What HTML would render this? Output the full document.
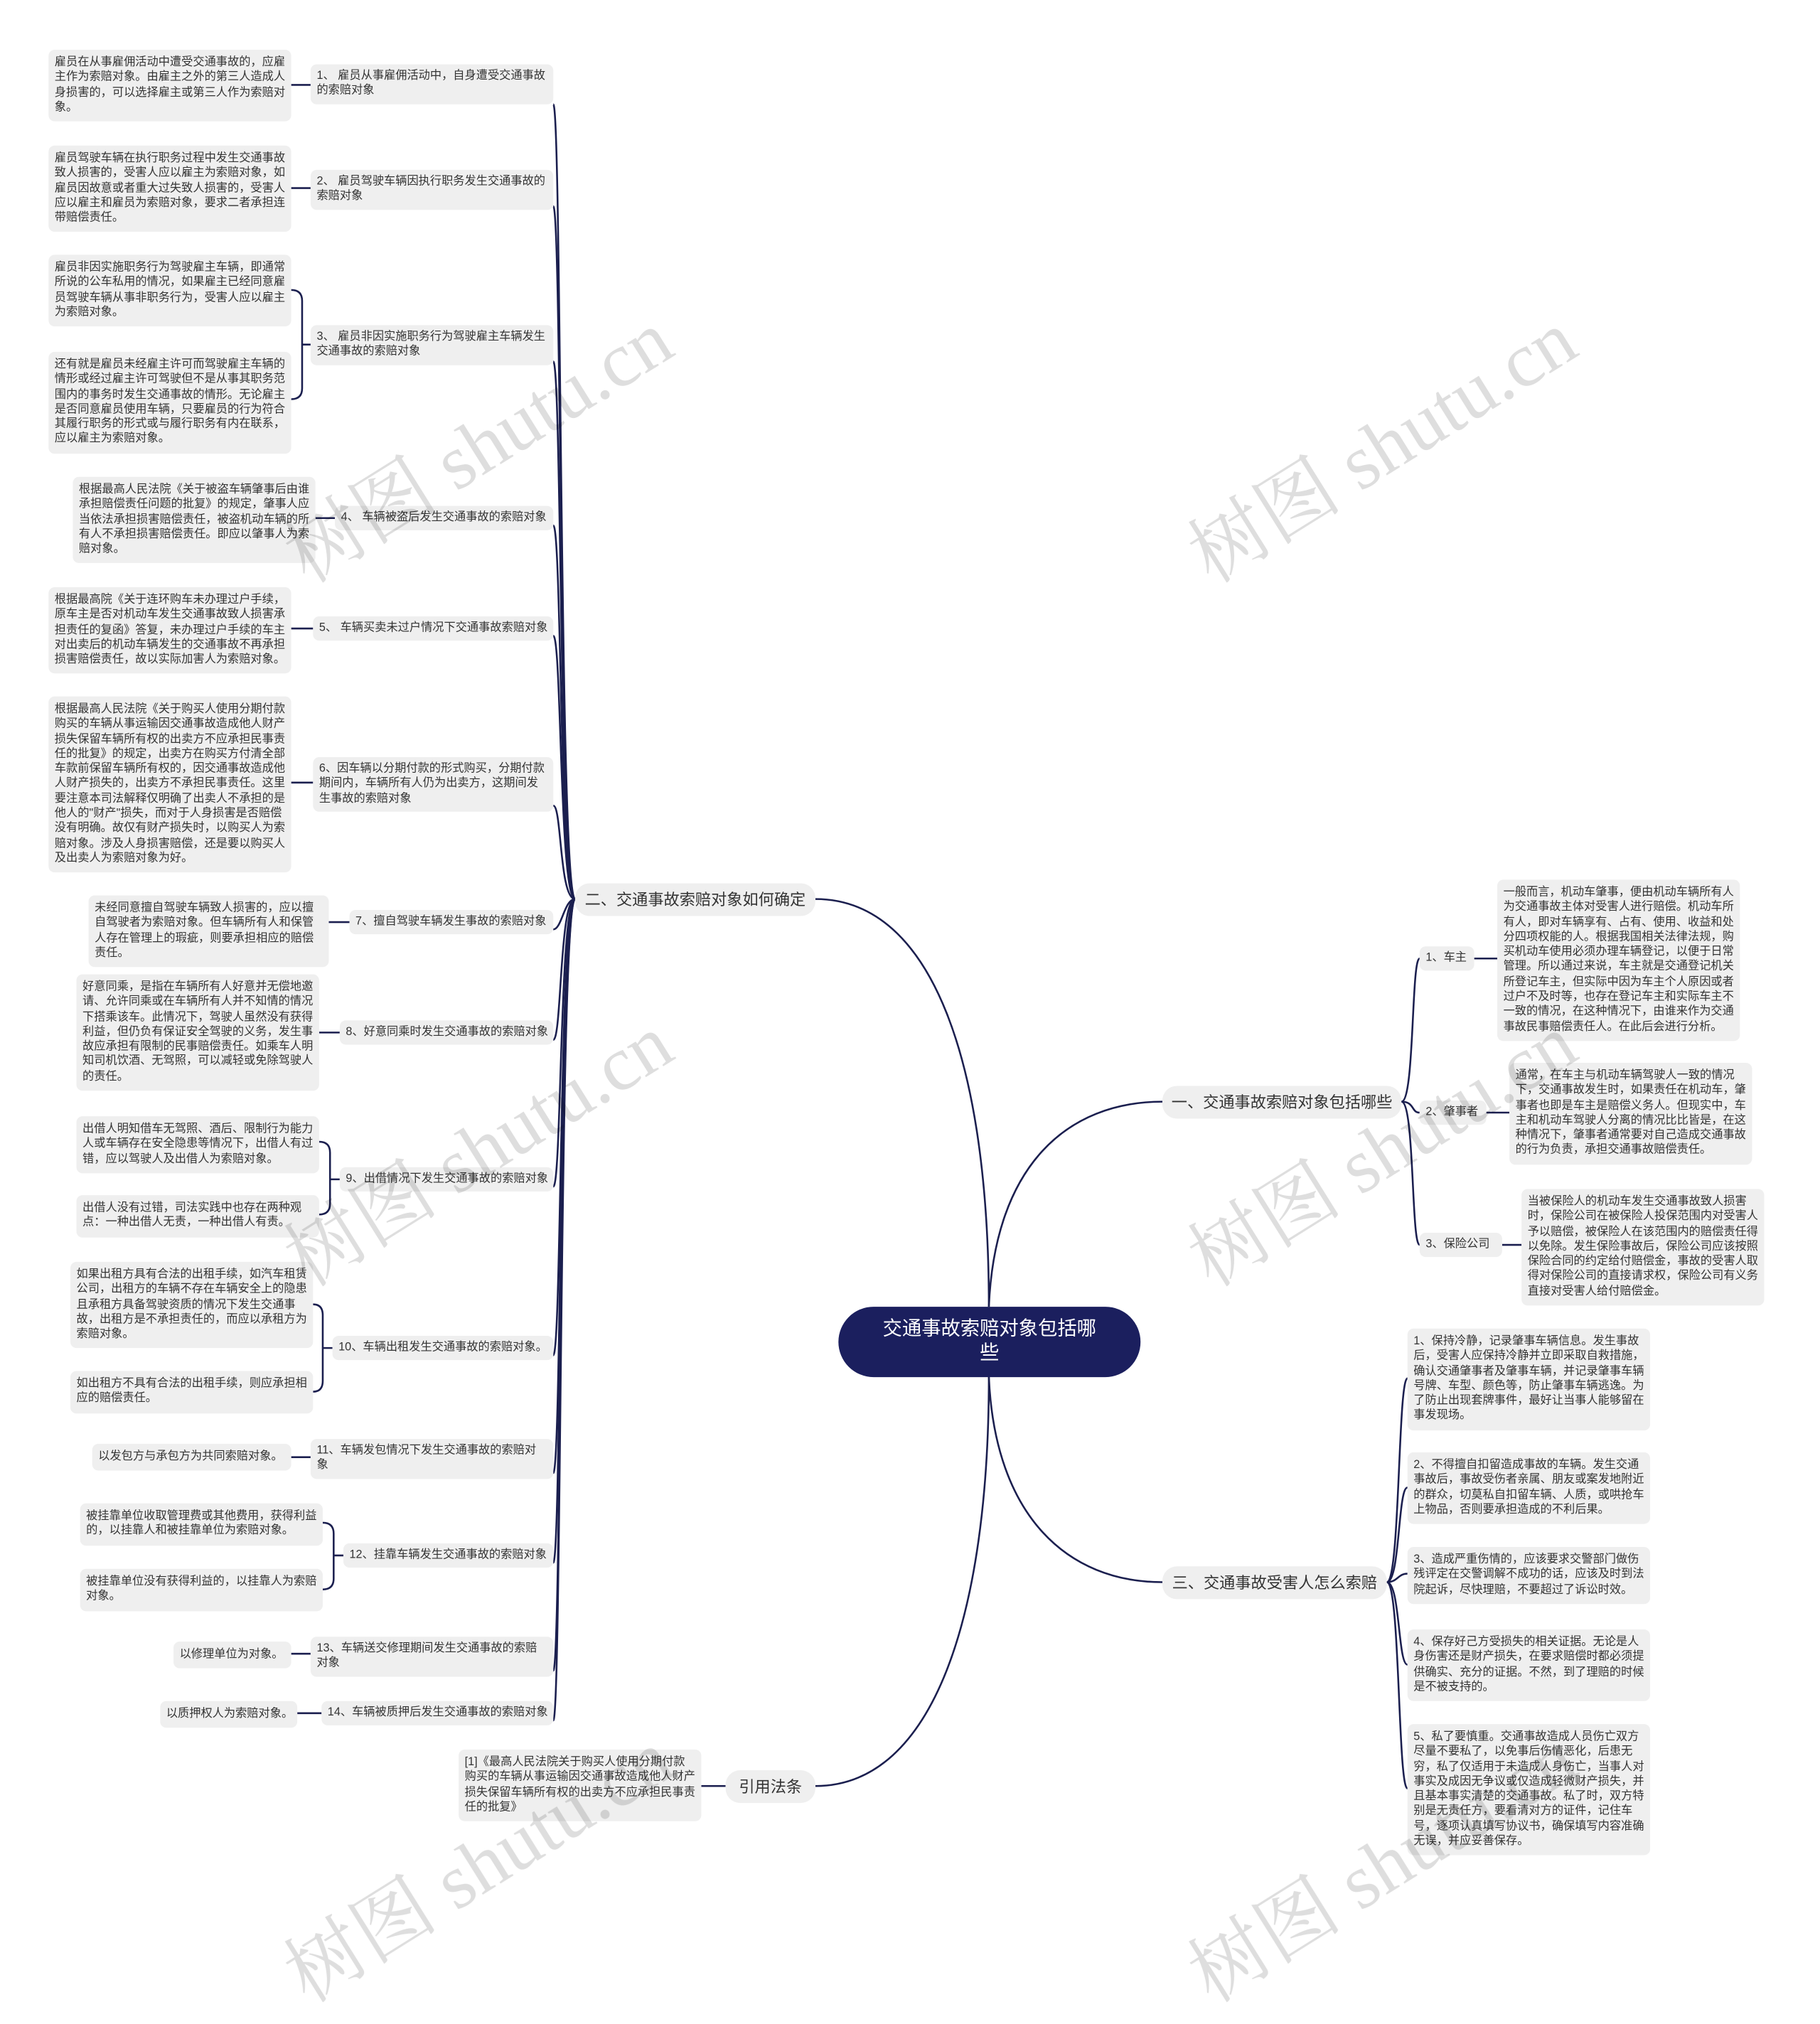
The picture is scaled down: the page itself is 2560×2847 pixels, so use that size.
<!DOCTYPE html>
<html><head><meta charset="utf-8"><style>
html,body{margin:0;padding:0;background:#fff;}
body{width:2560px;height:2686px;overflow:hidden;position:relative;}
#w{position:absolute;left:0;top:0;width:1500px;height:1574px;transform:scale(1.70667);transform-origin:0 0;font-family:"Liberation Sans","Noto Sans CJK SC",sans-serif;}
.b{position:absolute;background:#efefef;border-radius:5px;color:#333;font-size:9.5px;line-height:12.3px;padding:5px 5px;box-sizing:border-box;word-break:break-all;}
.c{position:absolute;background:#efefef;border-radius:5px;color:#333;font-size:9.5px;line-height:12.3px;padding:4px 5px;box-sizing:border-box;}
.n{white-space:nowrap;}
.m{position:absolute;background:#efefef;border-radius:12px;color:#333;font-size:13px;line-height:27px;text-align:center;white-space:nowrap;}
.wm{position:absolute;font-family:"Liberation Serif","Noto Serif CJK SC",serif;font-size:64px;color:rgba(0,0,0,0.13);transform:rotate(-32deg);white-space:nowrap;transform-origin:0 0;}
svg{position:absolute;left:0;top:0;}
</style></head><body><div id="w">
<svg width="1500" height="1574" fill="none" stroke="#1b1f4f" stroke-width="1.5">
<path d="M815 1077 C 815 880, 770 741, 672 741"/>
<path d="M815 1135 C 815 1330, 770 1472, 672 1472"/>
<path d="M815 1077 C 820 960, 880 908, 958 908"/>
<path d="M815 1135 C 820 1250, 880 1304, 958 1304"/>
<path d="M474 741 C 461 741, 463 86, 456 86"/>
<path d="M474 741 C 461 741, 463 170, 456 170"/>
<path d="M474 741 C 461 741, 463 298, 456 298"/>
<path d="M474 741 C 461 741, 463 433, 456 433"/>
<path d="M474 741 C 461 741, 463 524, 456 524"/>
<path d="M474 741 C 461 741, 463 664, 456 664"/>
<path d="M474 741 C 465 741, 463 766, 456 766"/>
<path d="M474 741 C 461 741, 463 857, 456 857"/>
<path d="M474 741 C 461 741, 463 978, 456 978"/>
<path d="M474 741 C 461 741, 463 1117, 456 1117"/>
<path d="M474 741 C 461 741, 463 1214, 456 1214"/>
<path d="M474 741 C 461 741, 463 1288, 456 1288"/>
<path d="M474 741 C 461 741, 463 1377, 456 1377"/>
<path d="M474 741 C 461 741, 463 1418, 456 1418"/>
<path d="M240 70 H256"/><path d="M240 155 H256"/>
<path d="M256 284 H249 M240 239 Q249 239 249 248 V320 Q249 329 240 329"/>
<path d="M260 427 H276"/><path d="M240 518 H258"/><path d="M240 645 H258"/>
<path d="M271 760 H288"/><path d="M263 851 H280"/>
<path d="M280 972 H272 M263 941 Q272 941 272 950 V992 Q272 1001 263 1001"/>
<path d="M274 1111 H266 M258 1075 Q266 1075 266 1084 V1138 Q266 1147 258 1147"/>
<path d="M240 1201 H256"/>
<path d="M283 1282 H275 M266 1255 Q275 1255 275 1264 V1301 Q275 1310 266 1310"/>
<path d="M240 1363 H256"/><path d="M245 1412 H265"/>
<path d="M578 1472 H598"/>
<path d="M1155 908 C 1166 908, 1163 790, 1170 790"/>
<path d="M1155 908 C 1166 908, 1163 917, 1170 917"/>
<path d="M1155 908 C 1166 908, 1163 1026, 1170 1026"/>
<path d="M1215 790 H1234"/><path d="M1225 917 H1244"/><path d="M1238 1026 H1254"/>
<path d="M1143 1304 C 1154 1304, 1152 1136, 1160 1136"/>
<path d="M1143 1304 C 1154 1304, 1152 1226, 1160 1226"/>
<path d="M1143 1304 C 1152 1304, 1152 1297, 1160 1297"/>
<path d="M1143 1304 C 1154 1304, 1152 1372, 1160 1372"/>
<path d="M1143 1304 C 1154 1304, 1152 1474, 1160 1474"/>
</svg>

<div style="position:absolute;left:691px;top:1077px;width:249px;height:58px;background:#1b1f5e;border-radius:29px;color:#fff;font-size:16px;line-height:20px;text-align:center;box-sizing:border-box;padding:9px 30px 0;">交通事故索赔对象包括哪些</div>

<div class="m" style="left:474px;top:728px;width:198px;">二、交通事故索赔对象如何确定</div>
<div class="m" style="left:598px;top:1459px;width:74px;">引用法条</div>
<div class="m" style="left:958px;top:895px;width:197px;">一、交通事故索赔对象包括哪些</div>
<div class="m" style="left:958px;top:1291px;width:185px;">三、交通事故受害人怎么索赔</div>

<div class="c" style="left:256px;top:53px;width:200px;">1、 雇员从事雇佣活动中，自身遭受交通事故的索赔对象</div>
<div class="c" style="left:256px;top:140px;width:200px;">2、 雇员驾驶车辆因执行职务发生交通事故的索赔对象</div>
<div class="c" style="left:256px;top:268px;width:200px;">3、 雇员非因实施职务行为驾驶雇主车辆发生交通事故的索赔对象</div>
<div class="c n" style="left:276px;top:417px;width:180px;">4、 车辆被盗后发生交通事故的索赔对象</div>
<div class="c n" style="left:258px;top:508px;width:198px;">5、 车辆买卖未过户情况下交通事故索赔对象</div>
<div class="c" style="left:258px;top:624px;width:198px;">6、因车辆以分期付款的形式购买，分期付款期间内，车辆所有人仍为出卖方，这期间发生事故的索赔对象</div>
<div class="c n" style="left:288px;top:750px;width:168px;">7、擅自驾驶车辆发生事故的索赔对象</div>
<div class="c n" style="left:280px;top:841px;width:176px;">8、好意同乘时发生交通事故的索赔对象</div>
<div class="c n" style="left:280px;top:962px;width:176px;">9、出借情况下发生交通事故的索赔对象</div>
<div class="c n" style="left:274px;top:1101px;width:182px;">10、车辆出租发生交通事故的索赔对象。</div>
<div class="c" style="left:256px;top:1186px;width:200px;">11、车辆发包情况下发生交通事故的索赔对象</div>
<div class="c n" style="left:283px;top:1272px;width:173px;">12、挂靠车辆发生交通事故的索赔对象</div>
<div class="c" style="left:256px;top:1349px;width:200px;">13、车辆送交修理期间发生交通事故的索赔对象</div>
<div class="c n" style="left:265px;top:1402px;width:191px;">14、车辆被质押后发生交通事故的索赔对象</div>

<div class="b" style="left:40px;top:41px;width:200px;">雇员在从事雇佣活动中遭受交通事故的，应雇主作为索赔对象。由雇主之外的第三人造成人身损害的，可以选择雇主或第三人作为索赔对象。</div>
<div class="b" style="left:40px;top:120px;width:200px;">雇员驾驶车辆在执行职务过程中发生交通事故致人损害的，受害人应以雇主为索赔对象，如雇员因故意或者重大过失致人损害的，受害人应以雇主和雇员为索赔对象，要求二者承担连带赔偿责任。</div>
<div class="b" style="left:40px;top:210px;width:200px;">雇员非因实施职务行为驾驶雇主车辆，即通常所说的公车私用的情况，如果雇主已经同意雇员驾驶车辆从事非职务行为，受害人应以雇主为索赔对象。</div>
<div class="b" style="left:40px;top:290px;width:200px;">还有就是雇员未经雇主许可而驾驶雇主车辆的情形或经过雇主许可驾驶但不是从事其职务范围内的事务时发生交通事故的情形。无论雇主是否同意雇员使用车辆，只要雇员的行为符合其履行职务的形式或与履行职务有内在联系，应以雇主为索赔对象。</div>
<div class="b" style="left:60px;top:393px;width:200px;">根据最高人民法院《关于被盗车辆肇事后由谁承担赔偿责任问题的批复》的规定，肇事人应当依法承担损害赔偿责任，被盗机动车辆的所有人不承担损害赔偿责任。即应以肇事人为索赔对象。</div>
<div class="b" style="left:40px;top:484px;width:200px;">根据最高院《关于连环购车未办理过户手续，原车主是否对机动车发生交通事故致人损害承担责任的复函》答复，未办理过户手续的车主对出卖后的机动车辆发生的交通事故不再承担损害赔偿责任，故以实际加害人为索赔对象。</div>
<div class="b" style="left:40px;top:574px;width:200px;">根据最高人民法院《关于购买人使用分期付款购买的车辆从事运输因交通事故造成他人财产损失保留车辆所有权的出卖方不应承担民事责任的批复》的规定，出卖方在购买方付清全部车款前保留车辆所有权的，因交通事故造成他人财产损失的，出卖方不承担民事责任。这里要注意本司法解释仅明确了出卖人不承担的是他人的"财产"损失，而对于人身损害是否赔偿没有明确。故仅有财产损失时，以购买人为索赔对象。涉及人身损害赔偿，还是要以购买人及出卖人为索赔对象为好。</div>
<div class="b" style="left:73px;top:738px;width:198px;">未经同意擅自驾驶车辆致人损害的，应以擅自驾驶者为索赔对象。但车辆所有人和保管人存在管理上的瑕疵，则要承担相应的赔偿责任。</div>
<div class="b" style="left:63px;top:803px;width:200px;">好意同乘，是指在车辆所有人好意并无偿地邀请、允许同乘或在车辆所有人并不知情的情况下搭乘该车。此情况下，驾驶人虽然没有获得利益，但仍负有保证安全驾驶的义务，发生事故应承担有限制的民事赔偿责任。如乘车人明知司机饮酒、无驾照，可以减轻或免除驾驶人的责任。</div>
<div class="b" style="left:63px;top:920px;width:200px;">出借人明知借车无驾照、酒后、限制行为能力人或车辆存在安全隐患等情况下，出借人有过错，应以驾驶人及出借人为索赔对象。</div>
<div class="b" style="left:63px;top:985px;width:200px;">出借人没有过错，司法实践中也存在两种观点：一种出借人无责，一种出借人有责。</div>
<div class="b" style="left:58px;top:1040px;width:200px;">如果出租方具有合法的出租手续，如汽车租赁公司，出租方的车辆不存在车辆安全上的隐患且承租方具备驾驶资质的情况下发生交通事故，出租方是不承担责任的，而应以承租方为索赔对象。</div>
<div class="b" style="left:58px;top:1130px;width:200px;">如出租方不具有合法的出租手续，则应承担相应的赔偿责任。</div>
<div class="b n" style="left:76px;top:1190px;width:164px;">以发包方与承包方为共同索赔对象。</div>
<div class="b" style="left:66px;top:1239px;width:200px;">被挂靠单位收取管理费或其他费用，获得利益的，以挂靠人和被挂靠单位为索赔对象。</div>
<div class="b" style="left:66px;top:1293px;width:200px;">被挂靠单位没有获得利益的，以挂靠人为索赔对象。</div>
<div class="b n" style="left:143px;top:1353px;width:97px;">以修理单位为对象。</div>
<div class="b n" style="left:132px;top:1402px;width:113px;">以质押权人为索赔对象。</div>
<div class="b" style="left:378px;top:1442px;width:200px;">[1]《最高人民法院关于购买人使用分期付款购买的车辆从事运输因交通事故造成他人财产损失保留车辆所有权的出卖方不应承担民事责任的批复》</div>

<div class="c n" style="left:1170px;top:780px;width:45px;">1、车主</div>
<div class="c n" style="left:1170px;top:907px;width:55px;">2、肇事者</div>
<div class="c n" style="left:1170px;top:1016px;width:68px;">3、保险公司</div>
<div class="b" style="left:1234px;top:725px;width:200px;">一般而言，机动车肇事，便由机动车辆所有人为交通事故主体对受害人进行赔偿。机动车所有人，即对车辆享有、占有、使用、收益和处分四项权能的人。根据我国相关法律法规，购买机动车使用必须办理车辆登记，以便于日常管理。所以通过来说，车主就是交通登记机关所登记车主，但实际中因为车主个人原因或者过户不及时等，也存在登记车主和实际车主不一致的情况，在这种情况下，由谁来作为交通事故民事赔偿责任人。在此后会进行分析。</div>
<div class="b" style="left:1244px;top:876px;width:200px;">通常，在车主与机动车辆驾驶人一致的情况下，交通事故发生时，如果责任在机动车，肇事者也即是车主是赔偿义务人。但现实中，车主和机动车驾驶人分离的情况比比皆是，在这种情况下，肇事者通常要对自己造成交通事故的行为负责，承担交通事故赔偿责任。</div>
<div class="b" style="left:1254px;top:980px;width:200px;">当被保险人的机动车发生交通事故致人损害时，保险公司在被保险人投保范围内对受害人予以赔偿，被保险人在该范围内的赔偿责任得以免除。发生保险事故后，保险公司应该按照保险合同的约定给付赔偿金，事故的受害人取得对保险公司的直接请求权，保险公司有义务直接对受害人给付赔偿金。</div>

<div class="b" style="left:1160px;top:1095px;width:200px;">1、保持冷静，记录肇事车辆信息。发生事故后，受害人应保持冷静并立即采取自救措施，确认交通肇事者及肇事车辆，并记录肇事车辆号牌、车型、颜色等，防止肇事车辆逃逸。为了防止出现套牌事件，最好让当事人能够留在事发现场。</div>
<div class="b" style="left:1160px;top:1197px;width:200px;">2、不得擅自扣留造成事故的车辆。发生交通事故后，事故受伤者亲属、朋友或案发地附近的群众，切莫私自扣留车辆、人质，或哄抢车上物品，否则要承担造成的不利后果。</div>
<div class="b" style="left:1160px;top:1275px;width:200px;">3、造成严重伤情的，应该要求交警部门做伤残评定在交警调解不成功的话，应该及时到法院起诉，尽快理赔，不要超过了诉讼时效。</div>
<div class="b" style="left:1160px;top:1343px;width:200px;">4、保存好己方受损失的相关证据。无论是人身伤害还是财产损失，在要求赔偿时都必须提供确实、充分的证据。不然，到了理赔的时候是不被支持的。</div>
<div class="b" style="left:1160px;top:1421px;width:200px;">5、私了要慎重。交通事故造成人员伤亡双方尽量不要私了，以免事后伤情恶化，后患无穷，私了仅适用于未造成人身伤亡，当事人对事实及成因无争议或仅造成轻微财产损失，并且基本事实清楚的交通事故。私了时，双方特别是无责任方，要看清对方的证件，记住车号，逐项认真填写协议书，确保填写内容准确无误，并应妥善保存。</div>

<div class="wm" style="left:215px;top:420px;">树图 shutu.cn</div>
<div class="wm" style="left:960px;top:420px;">树图 shutu.cn</div>
<div class="wm" style="left:215px;top:1000px;">树图 shutu.cn</div>
<div class="wm" style="left:960px;top:1000px;">树图 shutu.cn</div>
<div class="wm" style="left:215px;top:1590px;">树图 shutu.cn</div>
<div class="wm" style="left:960px;top:1590px;">树图 shutu.cn</div>
</div></body></html>
